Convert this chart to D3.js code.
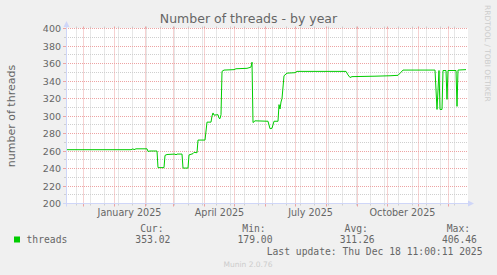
<!DOCTYPE html>
<html>
<head>
<meta charset="utf-8">
<script src="https://cdn.jsdelivr.net/npm/d3@7"></script>
<style>
  html, body { margin: 0; padding: 0; background: #F0F0F0; }
  svg { display: block; }
</style>
</head>
<body>
<svg id="chart" width="497" height="275"></svg>
<script>
// ---------- data ----------
const title = "Number of threads - by year";
const yAxisTitle = "number of threads";
const seriesName = "threads";
const dates = [
  "2024-11-14","2025-01-17","2025-01-19","2025-01-20","2025-01-22","2025-02-02","2025-02-03","2025-02-05",
  "2025-02-12","2025-02-13","2025-02-19","2025-02-20","2025-02-22","2025-03-02","2025-03-03","2025-03-04",
  "2025-03-09","2025-03-10","2025-03-15","2025-03-16","2025-03-20","2025-03-21","2025-03-24","2025-03-25",
  "2025-04-01","2025-04-03","2025-04-07","2025-04-08","2025-04-09","2025-04-10","2025-04-14","2025-04-15",
  "2025-04-16","2025-04-17","2025-04-18","2025-04-20","2025-04-30","2025-05-02","2025-05-13","2025-05-16",
  "2025-05-17","2025-05-18","2025-05-19","2025-05-21","2025-06-03","2025-06-05","2025-06-07","2025-06-09",
  "2025-06-13","2025-06-14","2025-06-15","2025-06-16","2025-06-17","2025-06-19","2025-06-22","2025-06-30",
  "2025-07-02","2025-08-20","2025-08-22","2025-08-24","2025-08-26","2025-09-18","2025-10-03","2025-10-11",
  "2025-10-14","2025-10-16","2025-11-17","2025-11-19","2025-11-21","2025-11-22","2025-11-24","2025-11-25",
  "2025-11-28","2025-11-29","2025-11-30","2025-12-08","2025-12-09","2025-12-10","2025-12-18"
];
const values = [
  261.5,261.5,262.5,261.5,262.5,262.5,259.5,260,
  260,241,241,255,256,256.5,255.5,256.5,
  256.5,240.5,240.5,255.5,257,258.5,258,272.5,
  272.5,293,293,300,303.5,301,301.5,297.5,
  297,301.5,351,352.5,353,354,354.5,355.5,
  356,361.5,292.5,294.5,294,285.5,286,294,
  294,313,308,316,320,346,349,349.5,
  351,351,347,344,345,345.5,346,346.5,
  350,352.5,352.5,307.5,352,307.5,307.5,352,
  352,319,352,352,311,352.5,353
];
const yTicks = [200,220,240,260,280,300,320,340,360,380,400];
const xLabelMonths = ["2025-01-01","2025-04-01","2025-07-01","2025-10-01"];
const statLabels = ["Cur:","Min:","Avg:","Max:"];
const statValues = ["353.02","179.00","311.26","406.46"];
const lastUpdate = "Last update: Thu Dec 18 11:00:11 2025";
const version = "Munin 2.0.76";
const watermark = "RRDTOOL / TOBI OETIKER";
const endTime = "2025-12-18T11:00:11Z";
const spanDays = 400;

// ---------- setup ----------
const svg = d3.select("#chart");
const W = 497, H = 275;
const X0 = 66, X1 = 466, Ytop = 28.5, Ybot = 203.5;
const SANS = "DejaVu Sans", MONO = "DejaVu Sans Mono";
const FONT = "#666666";

const end = new Date(endTime);
const start = d3.utcDay.offset(end, -spanDays);
const x = d3.scaleUtc().domain([start, end]).range([X0, X1]);
const y = d3.scaleLinear().domain([200, 400]).range([Ybot, Ytop]);
const parse = d3.utcParse("%Y-%m-%d");
const data = dates.map((d, i) => ({ t: d3.utcHour.offset(parse(d), 11), v: values[i] }));

svg.append("rect").attr("width", W).attr("height", H).attr("fill", "#F0F0F0");
svg.append("rect").attr("x", X0 + 1).attr("y", 28).attr("width", X1 - X0 + 1).attr("height", Ybot - 28)
  .attr("fill", "#FFFFFF");

const snap = v => Math.floor(v) + 0.5;
const MINOR = "#cfcfcf", MAJOR = "#eda3a3";

// minor vertical grid: every second Sunday
const minorDates = d3.utcSunday.range(d3.utcDay.offset(start, 7), end, 2);
const monthDates = d3.utcMonth.range(start, end);
const gV = svg.append("g");
minorDates.forEach(d => {
  const px = snap(x(d));
  gV.append("line").attr("x1", px).attr("x2", px).attr("y1", Ytop).attr("y2", Ybot)
    .attr("stroke", MINOR).attr("stroke-dasharray", "1,1");
  gV.append("line").attr("x1", px).attr("x2", px).attr("y1", Ybot).attr("y2", Ybot + 2).attr("stroke", MINOR);
  gV.append("line").attr("x1", px).attr("x2", px).attr("y1", Ytop - 2).attr("y2", Ytop).attr("stroke", MINOR);
});
// minor horizontal grid every 10
d3.range(210, 400, 20).forEach(v => {
  const py = snap(y(v));
  gV.append("line").attr("x1", X0).attr("x2", X1 + 1).attr("y1", py).attr("y2", py)
    .attr("stroke", MINOR).attr("stroke-dasharray", "1,1");
  gV.append("line").attr("x1", X0 - 2).attr("x2", X0).attr("y1", py).attr("y2", py).attr("stroke", MINOR);
});
// major grid
monthDates.forEach(d => {
  const px = snap(x(d));
  gV.append("line").attr("x1", px).attr("x2", px).attr("y1", Ytop).attr("y2", Ybot)
    .attr("stroke", MAJOR).attr("stroke-dasharray", "1,1");
  gV.append("line").attr("x1", px).attr("x2", px).attr("y1", Ybot).attr("y2", Ybot + 3).attr("stroke", MAJOR);
  gV.append("line").attr("x1", px).attr("x2", px).attr("y1", Ytop - 2).attr("y2", Ytop).attr("stroke", MAJOR);
});
yTicks.forEach(v => {
  const py = snap(y(v));
  if (v !== 200) {
    gV.append("line").attr("x1", X0).attr("x2", X1 + 1).attr("y1", py).attr("y2", py)
      .attr("stroke", MAJOR).attr("stroke-dasharray", "1,1");
  }
  gV.append("line").attr("x1", X0 - 3).attr("x2", X0).attr("y1", py).attr("y2", py).attr("stroke", MAJOR);
});

// y tick labels
svg.append("g").selectAll("text").data(yTicks).join("text")
  .attr("x", 61).attr("y", d => snap(y(d)) + 3.4)
  .attr("text-anchor", "end").attr("font-family", SANS).attr("font-size", 9.5).attr("fill", FONT)
  .text(d => d);

// x labels (mid-month)
const fmt = d3.utcFormat("%B %Y");
svg.append("g").selectAll("text").data(xLabelMonths).join("text")
  .attr("x", d => snap(x(d3.utcDay.offset(parse(d), 15))))
  .attr("y", 215.5)
  .attr("text-anchor", "middle").attr("font-family", SANS).attr("font-size", 9.6).attr("fill", FONT)
  .text(d => fmt(parse(d)));

// data line
const line = d3.line().x(d => x(d.t)).y(d => y(d.v));
svg.append("path").datum(data).attr("d", line)
  .attr("fill", "none").attr("stroke", "#00CC00").attr("stroke-width", 1).attr("stroke-linejoin", "round");

// axes
const AX = "#CFD6F8";
svg.append("line").attr("x1", X0 + 0.5).attr("x2", X0 + 0.5).attr("y1", Ybot + 3).attr("y2", 26).attr("stroke", AX);
svg.append("line").attr("x1", X0 - 3).attr("x2", X1 + 2).attr("y1", Ybot).attr("y2", Ybot).attr("stroke", AX);
svg.append("path").attr("d", `M${X0 - 2.5},27 L${X0 + 3.5},27 L${X0 + 0.5},21 Z`).attr("fill", AX);
svg.append("path").attr("d", `M468,${Ybot - 3} L468,${Ybot + 3} L474,${Ybot} Z`).attr("fill", AX);

// title
svg.append("text").attr("x", 248.5).attr("y", 23).attr("text-anchor", "middle")
  .attr("font-family", SANS).attr("font-size", 12.5).attr("fill", FONT).text(title);

// y axis title
svg.append("text").attr("transform", `translate(15,${(Ytop + Ybot) / 2}) rotate(-90)`)
  .attr("text-anchor", "middle").attr("font-family", SANS).attr("font-size", 11).attr("fill", FONT)
  .text(yAxisTitle);

// watermark
svg.append("text").attr("transform", "translate(485,5) rotate(90)")
  .attr("font-family", SANS).attr("font-size", 7.5).attr("fill", "#cccccc").text(watermark);

// legend
svg.append("rect").attr("x", 14).attr("y", 236.5).attr("width", 6).attr("height", 6).attr("fill", "#00CC00");
svg.append("text").attr("x", 26.5).attr("y", 243).attr("font-family", MONO).attr("font-size", 9.7)
  .attr("fill", FONT).text(seriesName);
const lg = svg.append("g").attr("font-family", MONO).attr("font-size", 9.7).attr("fill", FONT)
  .attr("text-anchor", "end");
statLabels.forEach((s, i) => {
  lg.append("text").attr("x", 163.5 + i * 102.2).attr("y", 231.5).text(s);
  lg.append("text").attr("x", 170.3 + i * 102.2).attr("y", 243).text(statValues[i]);
});
lg.append("text").attr("x", 482.5).attr("y", 254.5).text(lastUpdate);

svg.append("text").attr("x", 248).attr("y", 266.5).attr("text-anchor", "middle")
  .attr("font-family", SANS).attr("font-size", 7.5).attr("fill", "#cccccc").text(version);
</script>
</body>
</html>
